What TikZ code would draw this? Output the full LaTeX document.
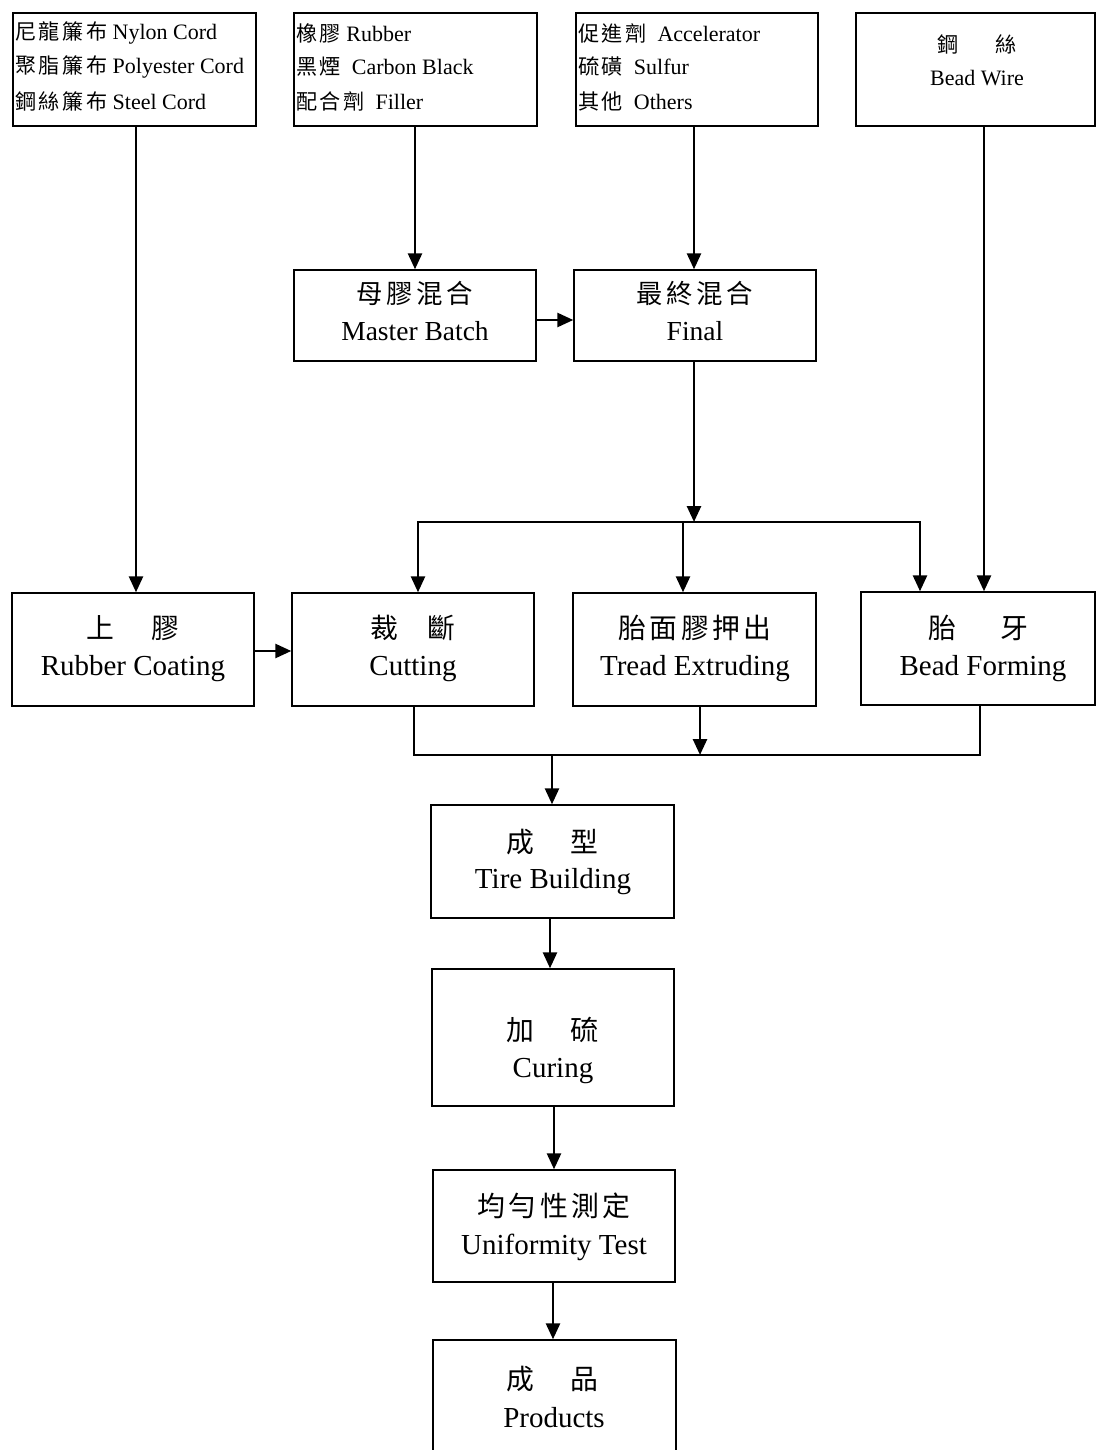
\documentclass[tikz,border=0pt]{standalone}
\usepackage{fontspec}
\setmainfont{Liberation Serif}
\newfontfamily\cjk{Noto Sans CJK TC}[Scale=0.96]
\usetikzlibrary{arrows.meta}
\begin{document}
\begin{tikzpicture}[x=1pt,y=-1pt,
  box/.style={draw=black,line width=1.4pt,inner sep=0pt},
  conn/.style={line width=2.6pt},
  arr/.style={conn,-{Triangle[length=16pt,width=14pt]}},
  small/.style={inner sep=0pt,font=\fontsize{22}{26}\selectfont},
  mid/.style={inner sep=0pt,font=\fontsize{27.5}{31}\selectfont},
  big/.style={inner sep=0pt,font=\fontsize{29}{33}\selectfont}]
\useasboundingbox (0,0) rectangle (1096,1450);
\clip (0,0) rectangle (1096,1450);
% boxes
\newcommand\bx[5]{\node[box,minimum width={#4-#2},minimum height={#5-#3}] (#1) at ({(#2+#4)/2},{(#3+#5)/2}) {};}
\newcommand\cjsp{\hspace{3.5pt}}
\newcommand\cjss{\hspace{2.5pt}}
\bx{nylon}{13}{13}{256}{126}
\bx{rubber}{294}{13}{537}{126}
\bx{accel}{576}{13}{818}{126}
\bx{wire}{856}{13}{1095}{126}
\bx{master}{294}{270}{536}{361}
\bx{final}{574}{270}{816}{361}
\bx{coat}{12}{593}{254}{706}
\bx{cut}{292}{593}{534}{706}
\bx{tread}{573}{593}{816}{706}
\bx{bead}{861}{592}{1095}{705}
\bx{build}{431}{805}{674}{918}
\bx{cure}{432}{969}{674}{1106}
\bx{unif}{433}{1170}{675}{1282}
\bx{prod}{433}{1340}{676}{1490}
% top texts
\node[small,anchor=west] (t11) at (15,33) {{\cjk 尼\cjss 龍\cjss 簾\cjss 布}\ Nylon Cord};
\node[small,anchor=west] (t12) at (15,67) {{\cjk 聚\cjss 脂\cjss 簾\cjss 布}\ Polyester Cord};
\node[small,anchor=west] (t13) at (15,101) {{\cjk 鋼\cjss 絲\cjss 簾\cjss 布}\ Steel Cord};
\node[small,anchor=west] (t21) at (296,33) {{\cjk 橡\cjss 膠} Rubber};
\node[small,anchor=west] (t22) at (296,67) {{\cjk 黑\cjss 煙}\ \ Carbon Black};
\node[small,anchor=west] (t23) at (296,101) {{\cjk 配\cjss 合\cjss 劑}\ \ Filler};
\node[small,anchor=west] (t31) at (578,33) {{\cjk 促\cjss 進\cjss 劑}\ \ Accelerator};
\node[small,anchor=west] (t32) at (578,67) {{\cjk 硫\cjss 磺}\ \ Sulfur};
\node[small,anchor=west] (t33) at (578,101) {{\cjk 其\cjss 他}\ \ Others};
\node[small] (t41) at (977,44) {{\cjk 鋼\hspace{36pt}絲}};
\node[small] (t42) at (977,78) {Bead Wire};
% middle / lower texts
\node[mid] (m1) at (415,293) {{\cjk 母\cjsp 膠\cjsp 混\cjsp 合}};
\node[mid] (m2) at (415,331) {Master Batch};
\node[mid] (f1) at (695,293) {{\cjk 最\cjsp 終\cjsp 混\cjsp 合}};
\node[mid] (f2) at (695,331) {Final};
\node[big] (c1) at (133,628) {{\cjk 上\hspace{38pt}膠}};
\node[big] (c2) at (133,669) {Rubber Coating};
\node[big] (u1) at (413,628) {{\cjk 裁\hspace{30pt}斷}};
\node[big] (u2) at (413,669) {Cutting};
\node[big] (r1) at (695,628) {{\cjk 胎\cjsp 面\cjsp 膠\cjsp 押\cjsp 出}};
\node[big] (r2) at (695,669) {Tread Extruding};
\node[big] (b1) at (978,628) {{\cjk 胎\hspace{44pt}牙}};
\node[big] (b2) at (983,669) {Bead Forming};
\node[big] (d1) at (552,842) {{\cjk 成\hspace{36pt}型}};
\node[big] (d2) at (553,882) {Tire Building};
\node[big] (e1) at (552,1030) {{\cjk 加\hspace{36pt}硫}};
\node[big] (e2) at (553,1071) {Curing};
\node[big] (g1) at (554,1206) {{\cjk 均\cjsp 勻\cjsp 性\cjsp 測\cjsp 定}};
\node[big] (g2) at (554,1247) {Uniformity Test};
\node[big] (p1) at (552,1379) {{\cjk 成\hspace{36pt}品}};
\node[big] (p2) at (554,1418) {Products};
% junctions
\coordinate (j0) at (694,522);
\coordinate (jl) at (418,522);
\coordinate (jm) at (683,522);
\coordinate (jr) at (920,522);
\coordinate (k1) at (414,755);
\coordinate (k2) at (700,755);
\coordinate (k3) at (980,755);
\coordinate (k0) at (552,755);
% connectors
\draw[arr] (nylon.south -| 136,0) -- (coat.north -| 136,0);
\draw[arr] (rubber.south -| 415,0) -- (master.north -| 415,0);
\draw[arr] (accel.south -| 694,0) -- (final.north -| 694,0);
\draw[arr] (wire.south -| 984,0) -- (bead.north -| 984,0);
\draw[arr] (master.east |- 0,320) -- (final.west |- 0,320);
\draw[arr] (final.south -| j0) -- (j0);
\draw[conn,line cap=rect] (jl) -- (jr);
\draw[arr] (jl) -- (jl |- cut.north);
\draw[arr] (jm) -- (jm |- tread.north);
\draw[arr] (jr) -- (jr |- bead.north);
\draw[arr] (coat.east |- 0,651) -- (cut.west |- 0,651);
\draw[conn] (cut.south -| k1) -- (k1);
\draw[arr] (tread.south -| k2) -- (k2);
\draw[conn] (bead.south -| k3) -- (k3);
\draw[conn,line cap=rect] (k1) -- (k3);
\draw[arr] (k0) -- (k0 |- build.north);
\draw[arr] (build.south -| 550,0) -- (cure.north -| 550,0);
\draw[arr] (cure.south -| 554,0) -- (unif.north -| 554,0);
\draw[arr] (unif.south -| 553,0) -- (prod.north -| 553,0);
\end{tikzpicture}
\end{document}
